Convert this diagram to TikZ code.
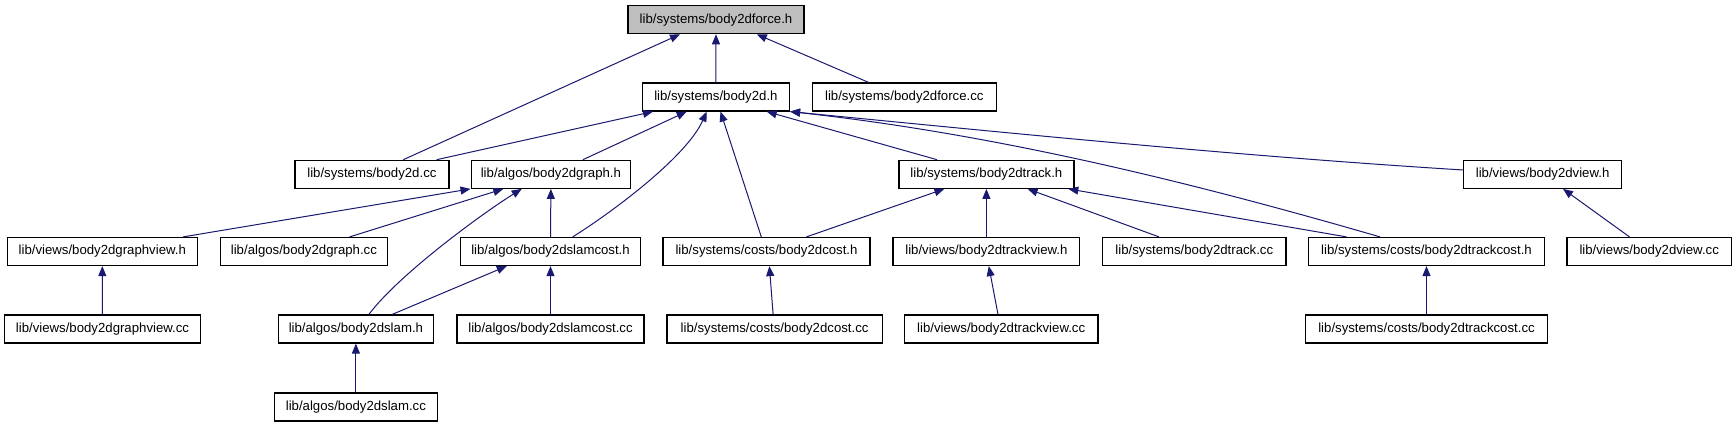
\documentclass[tikz,border=0pt]{standalone}
\usepackage{fontspec}
\setmainfont{Liberation Sans}
\usetikzlibrary{arrows.meta}
\definecolor{edgeblue}{HTML}{191970}
\definecolor{rootgray}{HTML}{BFBFBF}
\tikzset{
  filebox/.style={draw=black, line width=0.6pt, fill=white, inner sep=0pt,
    minimum height=14pt, font=\fontsize{6.6}{7.9}\selectfont, anchor=center},
  rootbox/.style={filebox, fill=rootgray},
  dep/.style={draw=edgeblue, line width=0.5pt,
    arrows={{Triangle[length=5pt,width=4pt,fill=edgeblue]}-}},
}
\begin{document}
\begin{tikzpicture}[x=0.5pt,y=-0.5pt]
\useasboundingbox (0,0) rectangle (1736,427);
% row 0
\node[rootbox, minimum width=88pt] (forceh) at (716,19.7) {lib/systems/body2dforce.h};
% row 1
\node[filebox, minimum width=73.6pt] (bh) at (715.9,97) {lib/systems/body2d.h};
\node[filebox, minimum width=92pt] (forcecc) at (904.3,97) {lib/systems/body2dforce.cc};
% row 2
\node[filebox, minimum width=77pt] (bcc) at (371.9,174.3) {lib/systems/body2d.cc};
\node[filebox, minimum width=79.8pt] (graphh) at (550.9,174.3) {lib/algos/body2dgraph.h};
\node[filebox, minimum width=87.5pt] (trackh) at (986.4,174.3) {lib/systems/body2dtrack.h};
\node[filebox, minimum width=78.8pt] (viewh) at (1542.6,174.3) {lib/views/body2dview.h};
% row 3
\node[filebox, minimum width=94.9pt] (graphviewh) at (102.3,251.5) {lib/views/body2dgraphview.h};
\node[filebox, minimum width=83.4pt] (graphcc) at (303.9,251.5) {lib/algos/body2dgraph.cc};
\node[filebox, minimum width=89.8pt] (slamcosth) at (550.5,251.5) {lib/algos/body2dslamcost.h};
\node[filebox, minimum width=103.5pt] (costh) at (766.5,251.5) {lib/systems/costs/body2dcost.h};
\node[filebox, minimum width=93.4pt] (trackviewh) at (986.4,251.5) {lib/views/body2dtrackview.h};
\node[filebox, minimum width=91.6pt] (trackcc) at (1194.3,251.5) {lib/systems/body2dtrack.cc};
\node[filebox, minimum width=118pt] (trackcosth) at (1426.5,251.5) {lib/systems/costs/body2dtrackcost.h};
\node[filebox, minimum width=82.2pt] (viewcc) at (1649.2,251.5) {lib/views/body2dview.cc};
% row 4
\node[filebox, minimum width=98pt] (graphviewcc) at (102.5,329) {lib/views/body2dgraphview.cc};
\node[filebox, minimum width=77.7pt] (slamh) at (355.9,329) {lib/algos/body2dslam.h};
\node[filebox, minimum width=93.5pt] (slamcostcc) at (550.5,329) {lib/algos/body2dslamcost.cc};
\node[filebox, minimum width=107.7pt] (costcc) at (774.6,329) {lib/systems/costs/body2dcost.cc};
\node[filebox, minimum width=96.7pt] (trackviewcc) at (1001.2,329) {lib/views/body2dtrackview.cc};
\node[filebox, minimum width=121.3pt] (trackcostcc) at (1426.5,329) {lib/systems/costs/body2dtrackcost.cc};
% row 5
\node[filebox, minimum width=81.4pt] (slamcc) at (355.9,407) {lib/algos/body2dslam.cc};

% edges into body2dforce.h
\draw[dep] ([xshift=-18pt]forceh.south) -- ([xshift=15.7pt]bcc.north);
\draw[dep] (forceh.south) -- (bh.north);
\draw[dep] ([xshift=20.4pt]forceh.south) -- ([xshift=-17.85pt]forcecc.north);
% edges into body2d.h
\draw[dep] ([xshift=-31.45pt]bh.south) -- ([xshift=32.35pt]bcc.north);
\draw[dep] ([xshift=-14.6pt]bh.south) -- ([xshift=16pt]graphh.north);
\draw[dep] ([xshift=-4.6pt]bh.south) .. controls +(-20,45) and +(40,-25) .. ([xshift=11.1pt]slamcosth.north);
\draw[dep] ([xshift=2.3pt]bh.south) -- ([xshift=-2.6pt]costh.north);
\draw[dep] ([xshift=25.4pt]bh.south) -- ([xshift=-24.7pt]trackh.north);
\draw[dep] (bh.south east) .. controls +(200,22) and +(-200,-58) .. ([xshift=-23.25pt]trackcosth.north);
\draw[dep] (bh.south east) .. controls +(225,22) and +(-225,-14) .. ([yshift=2.15pt]viewh.west);
% edges into body2dgraph.h
\draw[dep] (graphh.south west) -- ([xshift=40.4pt]graphviewh.north);
\draw[dep] ([xshift=-23.8pt]graphh.south) -- ([xshift=22.85pt]graphcc.north);
\draw[dep] ([xshift=-14.6pt]graphh.south) .. controls +(-40,25) and +(30,-40) .. ([xshift=6.5pt]slamh.north);
\draw[dep] (graphh.south) -- (slamcosth.north);
% edges into body2dslamcost.h, body2dslam.h, body2dgraphview.h
\draw[dep] ([xshift=-21.85pt]slamcosth.south) -- ([xshift=18.15pt]slamh.north);
\draw[dep] (slamcosth.south) -- (slamcostcc.north);
\draw[dep] (slamh.south) -- (slamcc.north);
\draw[dep] (graphviewh.south) -- (graphviewcc.north);
% edges into body2dtrack.h
\draw[dep] ([xshift=-21pt]trackh.south) -- ([xshift=19.95pt]costh.north);
\draw[dep] (trackh.south) -- (trackviewh.north);
\draw[dep] ([xshift=20.6pt]trackh.south) -- ([xshift=-17.65pt]trackcc.north);
\draw[dep] ([xshift=40.95pt]trackh.south) -- ([xshift=-40pt]trackcosth.north);
% lower edges
\draw[dep] ([xshift=1.45pt]costh.south) -- ([xshift=-0.75pt]costcc.north);
\draw[dep] ([xshift=1.2pt]trackviewh.south) -- ([xshift=-1.6pt]trackviewcc.north);
\draw[dep] (trackcosth.south) -- (trackcostcc.north);
\draw[dep] ([xshift=10.2pt]viewh.south) -- ([xshift=-9.85pt]viewcc.north);
\end{tikzpicture}
\end{document}
